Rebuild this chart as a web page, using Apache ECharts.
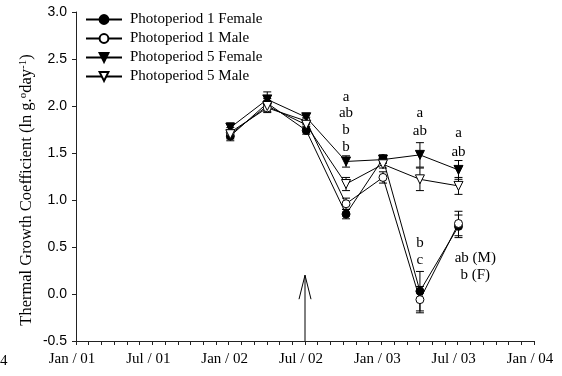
<!DOCTYPE html>
<html>
<head>
<meta charset="utf-8">
<script src="https://cdn.jsdelivr.net/npm/echarts@6/dist/echarts.min.js"></script>
<style>
  html, body { margin: 0; padding: 0; background: #fff; }
  #chart { width: 562px; height: 376px; }
</style>
</head>
<body>
<div id="chart"></div>
<script>
// Sampling dates (quarterly)
const sampleDates = ['2002-01-05', '2002-04-02', '2002-07-04', '2002-10-08', '2003-01-05', '2003-04-02', '2003-07-03'];

// Thermal growth coefficient means and standard errors
const p1Female = [1.68, 2.03, 1.74, 0.85, 1.44, 0.03, 0.72];
const p1FemaleErr = [0.05, 0.05, 0.04, 0.05, 0.04, 0.21, 0.12];
const p1Male = [1.72, 1.98, 1.84, 0.96, 1.24, -0.06, 0.75];
const p1MaleErr = [0.05, 0.05, 0.04, 0.06, 0.06, 0.14, 0.13];
const p5Female = [1.77, 2.07, 1.88, 1.41, 1.43, 1.48, 1.32];
const p5FemaleErr = [0.05, 0.08, 0.04, 0.06, 0.04, 0.13, 0.10];
const p5Male = [1.70, 2.00, 1.80, 1.17, 1.38, 1.22, 1.15];
const p5MaleErr = [0.05, 0.06, 0.04, 0.07, 0.04, 0.12, 0.09];

// Significance letters: [date, value, text]
const letterDates = ['2002-10-08', '2002-10-08', '2002-10-08', '2002-10-08',
                     '2003-04-02', '2003-04-02', '2003-04-02', '2003-04-02',
                     '2003-07-03', '2003-07-03', '2003-08-13', '2003-08-13'];
const letterValues = [2.10, 1.92, 1.74, 1.56, 1.92, 1.73, 0.54, 0.36, 1.71, 1.51, 0.38, 0.20];
const letterTexts = ['a', 'ab', 'b', 'b', 'a', 'ab', 'b', 'c', 'a', 'ab', 'ab (M)', 'b (F)'];

// Transfer date marked by the arrow
const arrowDate = '2002-07-01';
const arrowFrom = -0.5;
const arrowTo = 0.2;

const seriesNames = ['Photoperiod 1 Female', 'Photoperiod 1 Male', 'Photoperiod 5 Female', 'Photoperiod 5 Male'];
const monthNames = ['Jan', 'Jul'];

// months elapsed since Jan 2001
function toMonths(s) {
  const [y, m, d] = s.split('-').map(Number);
  const dim = new Date(y, m, 0).getDate();
  return (y - 2001) * 12 + (m - 1) + (d - 1) / dim;
}
const xs = sampleDates.map(toMonths);

const SERIF = "'Liberation Serif', 'Times New Roman', serif";
const SANS = "'Liberation Sans', Arial, sans-serif";

function pairs(vals) { return vals.map((v, i) => [xs[i], v]); }
function errData(vals, errs) { return vals.map((v, i) => [xs[i], v, errs[i]]); }

function errorBars(name, vals, errs) {
  return {
    type: 'custom',
    name: name + ' SE',
    data: errData(vals, errs),
    z: 1,
    silent: true,
    renderItem: function (params, api) {
      const x = api.value(0), y = api.value(1), e = api.value(2);
      const t = api.coord([x, y + e]);
      const b = api.coord([x, y - e]);
      const hw = 4;
      const st = { stroke: '#000', lineWidth: 1 };
      return {
        type: 'group',
        children: [
          { type: 'line', shape: { x1: t[0], y1: t[1], x2: b[0], y2: b[1] }, style: st },
          { type: 'line', shape: { x1: t[0] - hw, y1: t[1], x2: t[0] + hw, y2: t[1] }, style: st },
          { type: 'line', shape: { x1: b[0] - hw, y1: b[1], x2: b[0] + hw, y2: b[1] }, style: st }
        ]
      };
    }
  };
}

function lineSeries(name, vals, symbol, filled, size, rotate) {
  return {
    type: 'line',
    name: name,
    data: pairs(vals),
    symbol: symbol,
    symbolSize: size,
    symbolRotate: rotate,
    showAllSymbol: true,
    z: 3,
    lineStyle: { color: '#000', width: 1 },
    itemStyle: { color: filled ? '#000' : '#fff', borderColor: '#000', borderWidth: 1 },
    emphasis: { disabled: true },
    animation: false
  };
}

const chart = echarts.init(document.getElementById('chart'), null, { renderer: 'canvas' });

const option = {
  animation: false,
  backgroundColor: '#fff',
  grid: { left: 76, right: 28, top: 12, bottom: 35, containLabel: false },
  legend: {
    orient: 'vertical',
    left: 85,
    top: 12,
    padding: 0,
    itemWidth: 36,
    itemHeight: 11,
    itemGap: 4,
    data: seriesNames,
    textStyle: { fontFamily: SERIF, fontSize: 15, color: '#000', lineHeight: 15, padding: [0, 0, 0, 3] },
    selectedMode: false
  },
  xAxis: {
    type: 'value',
    min: 0,
    max: 36,
    interval: 6,
    axisLine: { onZero: false, lineStyle: { color: '#222', width: 1 } },
    axisTick: { show: true, inside: false, length: 4, lineStyle: { color: '#222' } },
    minorTick: { show: true, splitNumber: 6, length: 4, lineStyle: { color: '#222' } },
    splitLine: { show: false },
    axisLabel: {
      fontFamily: SERIF, fontSize: 15, color: '#000', margin: 11,
      padding: [0, 8, 0, 0],
      formatter: function (v) {
        const yr = 1 + Math.floor(v / 12);
        return monthNames[(v % 12) / 6] + ' / ' + String(yr).padStart(2, '0');
      }
    }
  },
  yAxis: {
    type: 'value',
    min: -0.5,
    max: 3.0,
    interval: 0.5,
    axisLine: { show: true, onZero: false, lineStyle: { color: '#222', width: 1 } },
    axisTick: { show: true, inside: false, length: 4, lineStyle: { color: '#222' } },
    splitLine: { show: false },
    axisLabel: {
      fontFamily: SANS, fontSize: 14, color: '#000', margin: 9,
      formatter: function (v) { return v.toFixed(1); }
    }
  },
  graphic: [
    {
      type: 'text',
      x: 27,
      y: 190,
      rotation: Math.PI / 2,
      style: {
        text: 'Thermal Growth Coefficient (ln g.{sup|o}day{sup|-1})',
        fontFamily: SERIF,
        fontSize: 16.5,
        fill: '#000',
        align: 'center',
        verticalAlign: 'middle',
        rich: {
          sup: { fontFamily: SERIF, fontSize: 11, verticalAlign: 'top', padding: [0, 0, 8, 0] }
        }
      }
    },
    {
      type: 'text',
      left: 0,
      top: 354,
      style: { text: '4', fontFamily: SERIF, fontSize: 15, fill: '#000' }
    }
  ],
  series: [
    errorBars(seriesNames[0], p1Female, p1FemaleErr),
    errorBars(seriesNames[1], p1Male, p1MaleErr),
    errorBars(seriesNames[2], p5Female, p5FemaleErr),
    errorBars(seriesNames[3], p5Male, p5MaleErr),
    lineSeries(seriesNames[0], p1Female, 'circle', true, 8, 0),
    lineSeries(seriesNames[1], p1Male, 'circle', false, 8, 0),
    lineSeries(seriesNames[2], p5Female, 'triangle', true, 9, 180),
    lineSeries(seriesNames[3], p5Male, 'triangle', false, 9, 180),
    {
      type: 'custom',
      name: 'letters',
      silent: true,
      z: 5,
      data: letterDates.map((d, i) => [toMonths(d), letterValues[i]]),
      renderItem: function (params, api) {
        const p = api.coord([api.value(0), api.value(1)]);
        return {
          type: 'text',
          x: p[0],
          y: p[1],
          style: {
            text: letterTexts[params.dataIndex],
            fontFamily: SERIF, fontSize: 15, fill: '#000',
            align: 'center', verticalAlign: 'middle'
          }
        };
      }
    },
    {
      type: 'custom',
      name: 'arrow',
      silent: true,
      z: 4,
      data: [[toMonths(arrowDate), arrowFrom, arrowTo]],
      renderItem: function (params, api) {
        const base = api.coord([api.value(0), api.value(1)]);
        const tip = api.coord([api.value(0), api.value(2)]);
        const st = { stroke: '#000', lineWidth: 1, fill: null };
        return {
          type: 'group',
          children: [
            { type: 'line', shape: { x1: base[0], y1: base[1], x2: tip[0], y2: tip[1] }, style: st },
            { type: 'polyline', shape: { points: [[tip[0] - 6, tip[1] + 24], [tip[0], tip[1]], [tip[0] + 6, tip[1] + 24]] }, style: st }
          ]
        };
      }
    }
  ]
};

chart.setOption(option);
</script>
</body>
</html>
